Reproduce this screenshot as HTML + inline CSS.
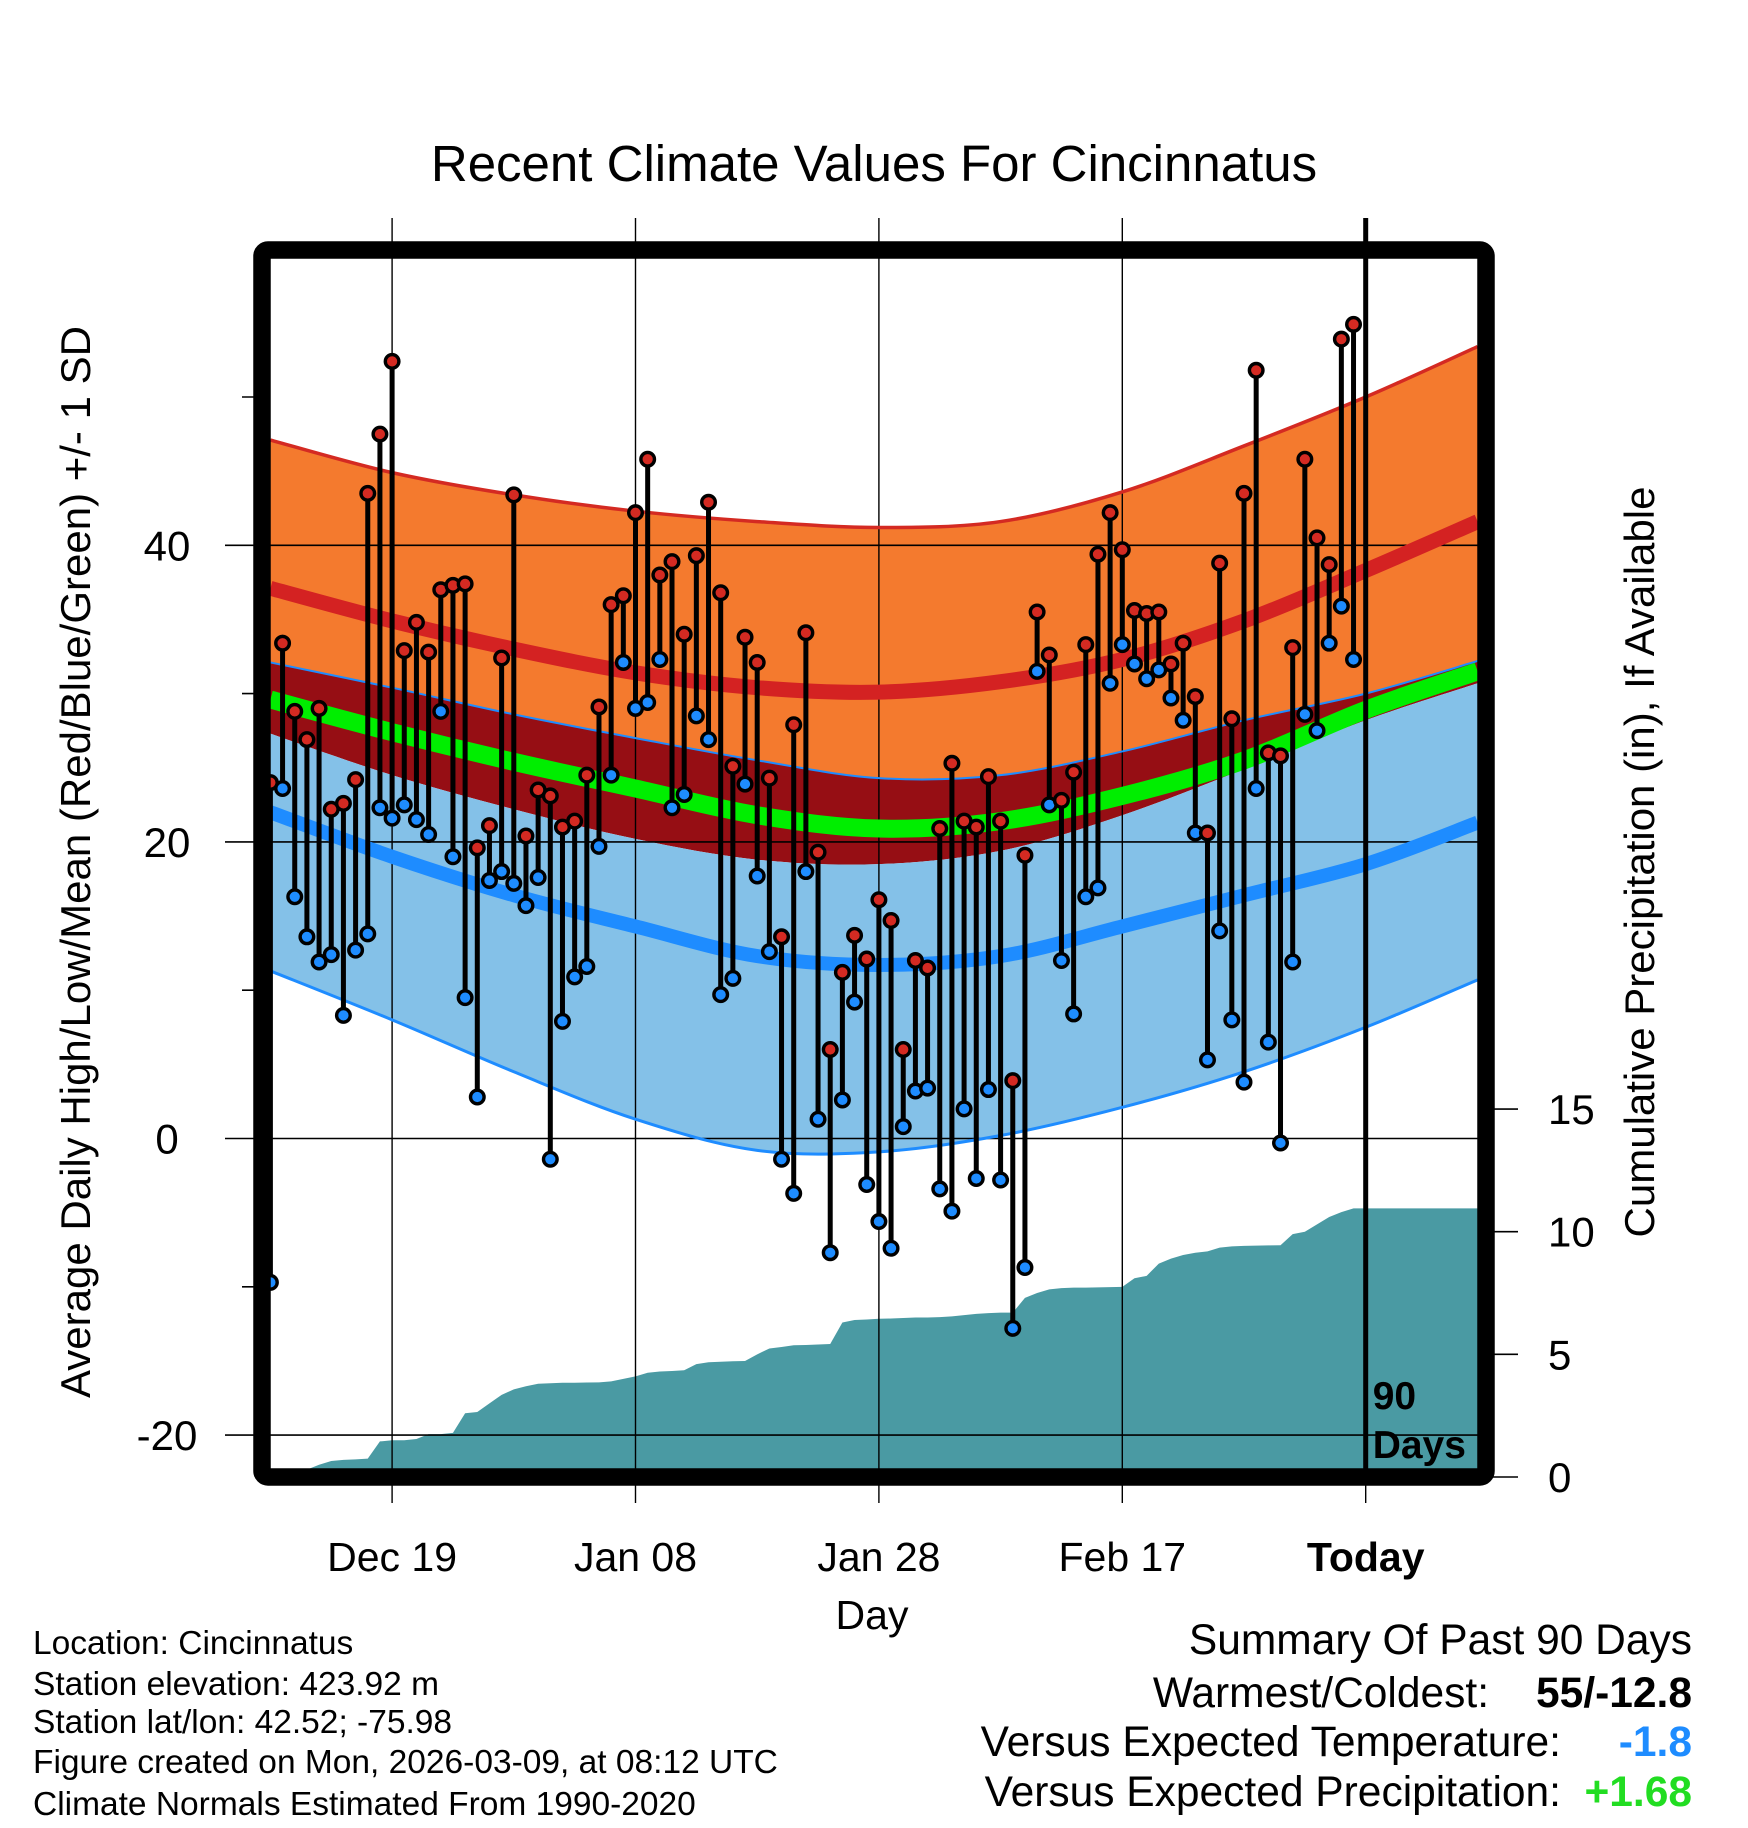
<!DOCTYPE html>
<html><head><meta charset="utf-8">
<style>
html,body{margin:0;padding:0;background:#fff;}
svg{display:block;font-family:"Liberation Sans",Arial,sans-serif;}
</style></head>
<body>
<svg id="chart" width="1748" height="1828" viewBox="0 0 1748 1828" xmlns="http://www.w3.org/2000/svg">
<rect width="1748" height="1828" fill="#fff"/>
<text x="874" y="181" font-size="51" text-anchor="middle">Recent Climate Values For Cincinnatus</text>
<g id="bands"></g>
<g id="precip"></g>
<g id="grid"></g>
<g id="lines"></g>
<g id="marks"></g>
<g id="axes"></g>
<text x="79" y="862" font-size="42" text-anchor="middle" dominant-baseline="middle" transform="rotate(-90 79 862)">Average Daily High/Low/Mean (Red/Blue/Green) +/- 1 SD</text>
<text x="1643" y="862" font-size="42" text-anchor="middle" dominant-baseline="middle" transform="rotate(-90 1643 862)">Cumulative Precipitation (in), If Available</text>
<text x="872" y="1629" font-size="41" text-anchor="middle">Day</text>
<g font-size="33.5">
<text x="33" y="1654">Location: Cincinnatus</text>
<text x="33" y="1695">Station elevation: 423.92 m</text>
<text x="33" y="1733">Station lat/lon: 42.52; -75.98</text>
<text x="33" y="1773">Figure created on Mon, 2026-03-09, at 08:12 UTC</text>
<text x="33" y="1815">Climate Normals Estimated From 1990-2020</text>
</g>
<g font-size="42.5" text-anchor="end">
<text x="1692" y="1654">Summary Of Past 90 Days</text>
<text x="1489" y="1707">Warmest/Coldest:</text>
<text x="1692" y="1707" font-weight="bold">55/-12.8</text>
<text x="1561" y="1756">Versus Expected Temperature:</text>
<text x="1692" y="1756" font-weight="bold" fill="#1e8cff">-1.8</text>
<text x="1561" y="1806">Versus Expected Precipitation:</text>
<text x="1692" y="1806" font-weight="bold" fill="#22dd22">+1.68</text>
</g>
</svg>
<script>
// ---- data ----
const normalDays = [0,10,20,30,40,50,60,70,80,90,99.2];
const highPlusSD = [47.1,44.9,43.4,42.3,41.6,41.2,41.6,43.6,46.7,50.0,53.4];
const highMean   = [37.1,34.9,33.0,31.4,30.4,30.1,30.8,32.3,34.9,38.3,41.6];
const highMinusSD= [32.1,30.4,28.6,27.0,25.5,24.3,24.5,26.1,28.2,30.0,32.2];
const meanTemp   = [29.6,27.4,25.4,23.6,21.8,20.9,21.4,23.1,25.5,28.9,31.5];
const lowPlusSD  = [27.3,24.5,22.2,20.2,18.8,18.5,19.4,21.8,24.9,28.2,30.7];
const lowMean    = [22.0,19.0,16.4,14.3,12.3,11.7,12.3,14.3,16.4,18.5,21.3];
const lowMinusSD = [11.3,8.0,4.5,1.3,-0.8,-0.9,0.2,2.1,4.5,7.5,10.7];
const dailyHigh = [24,33.4,28.8,26.9,29,22.2,22.6,24.2,43.5,47.5,52.4,32.9,34.8,32.8,37,37.3,37.4,19.6,21.1,32.4,
 43.4,20.4,23.5,23.1,21,21.4,24.5,29.1,36,36.6,42.2,45.8,38,38.9,34,39.3,42.9,36.8,25.1,33.8,
 32.1,24.3,13.6,27.9,34.1,19.3,6,11.2,13.7,12.1,16.1,14.7,6,12,11.5,20.9,25.3,21.4,21,24.4,
 21.4,3.9,19.1,35.5,32.6,22.8,24.7,33.3,39.4,42.2,39.7,35.6,35.4,35.5,32,33.4,29.8,20.6,38.8,28.3,
 43.5,51.8,26,25.8,33.1,45.8,40.5,38.7,53.9,54.9];
const dailyLow = [-9.7,23.6,16.3,13.6,11.9,12.4,8.3,12.7,13.8,22.3,21.6,22.5,21.5,20.5,28.8,19,9.5,2.8,17.4,18,
 17.2,15.7,17.6,-1.4,7.9,10.9,11.6,19.7,24.5,32.1,29,29.4,32.3,22.3,23.2,28.5,26.9,9.7,10.8,23.9,
 17.7,12.6,-1.4,-3.7,18,1.3,-7.7,2.6,9.2,-3.1,-5.6,-7.4,0.8,3.2,3.4,-3.4,-4.9,2,-2.7,3.3,
 -2.8,-12.8,-8.7,31.5,22.5,12,8.4,16.3,16.9,30.7,33.3,32,31,31.6,29.7,28.2,20.6,5.3,14,8,
 3.8,23.6,6.5,-0.3,11.9,28.6,27.5,33.4,35.9,32.3];
const cumPrecip = [0,0,0.1,0.3,0.5,0.65,0.7,0.72,0.75,1.45,1.5,1.5,1.55,1.75,1.75,1.8,2.6,2.65,3.0,3.35,
 3.57,3.7,3.8,3.82,3.84,3.84,3.85,3.86,3.9,4.0,4.1,4.25,4.3,4.32,4.35,4.6,4.68,4.7,4.72,4.73,
 5.0,5.24,5.3,5.37,5.38,5.4,5.42,6.3,6.4,6.42,6.45,6.46,6.48,6.5,6.5,6.52,6.55,6.6,6.65,6.68,
 6.7,6.7,7.3,7.5,7.65,7.7,7.72,7.72,7.73,7.74,7.75,8.1,8.2,8.7,8.9,9.05,9.14,9.2,9.35,9.4,
 9.42,9.43,9.44,9.45,9.9,10.0,10.3,10.6,10.8,10.95];
const tempTicks = [-20,0,20,40];
const minorTempTicks = [-10,10,30,50];
const precipTicks = [0,5,10,15];
const dateTickDays = [10,30,50,70,90];
const dateTickLabels = ["Dec 19","Jan 08","Jan 28","Feb 17","Today"];

// ---- axes ----
const L=262,R=1486,T=250,B=1477;
const X0=270.4, DX=12.17;
function xs(d){return X0+d*DX;}
function ys(t){return 1138.5-t*14.83;}
function yp(p){return 1477-p*24.53;}
const NS="http://www.w3.org/2000/svg";
function mk(tag,attrs,parent){const e=document.createElementNS(NS,tag);for(const k in attrs)e.setAttribute(k,attrs[k]);parent.appendChild(e);return e;}
function pts(arr){return normalDays.map((d,i)=>[xs(d),ys(arr[i])]);}
function curve(p){ // catmull-rom
  let s=`M${p[0][0]},${p[0][1]}`;
  for(let i=0;i<p.length-1;i++){
    const p0=p[Math.max(0,i-1)],p1=p[i],p2=p[i+1],p3=p[Math.min(p.length-1,i+2)];
    const c1=[p1[0]+(p2[0]-p0[0])/6,p1[1]+(p2[1]-p0[1])/6];
    const c2=[p2[0]-(p3[0]-p1[0])/6,p2[1]-(p3[1]-p1[1])/6];
    s+=` C${c1[0]},${c1[1]} ${c2[0]},${c2[1]} ${p2[0]},${p2[1]}`;
  }
  return s;
}
function band(top,bot){
  const a=pts(top), b=pts(bot).reverse();
  return curve(a)+" L"+b[0][0]+","+b[0][1]+curve(b).replace(/^M[^C]*/," ")+" Z";
}
const bands=document.getElementById('bands');
let e;
e=mk('path',{d:band(highPlusSD,highMinusSD),fill:'#f47a2e'},bands);


e=mk('path',{d:band(highMinusSD,lowPlusSD),fill:'#960e14'},bands);


e=mk('path',{d:band(lowPlusSD,lowMinusSD),fill:'#84c1e8'},bands);



// precip
const pg=document.getElementById('precip');
let pd=`M${xs(0)},${yp(0)}`;
cumPrecip.forEach((v,i)=>{pd+=` L${xs(i)},${yp(v)}`;});
pd+=` L${xs(99.2)},${yp(cumPrecip[cumPrecip.length-1])} L${xs(99.2)},${yp(0)} Z`;
e=mk('path',{d:pd,fill:'#4a9aa3'},pg);



// grid
const gg=document.getElementById('grid');
tempTicks.forEach(t=>{
  e=mk('line',{x1:225,x2:R,y1:ys(t),y2:ys(t),stroke:'#000','stroke-width':1.6},gg);
  
  
  e=mk('text',{x:167,y:ys(t)+15,'font-size':42,'text-anchor':'middle'},gg);
  e.textContent=String(t);
  
  
});
minorTempTicks.forEach(t=>{
  e=mk('line',{x1:242,x2:L,y1:ys(t),y2:ys(t),stroke:'#000','stroke-width':1.6},gg);
  
  
});
dateTickDays.forEach((d,i)=>{
  e=mk('line',{x1:xs(d),x2:xs(d),y1:218,y2:1503,stroke:'#000','stroke-width':1.4},gg);
  
  
  e=mk('text',{x:xs(d),y:1571,'font-size':41,'text-anchor':'middle','font-weight':i===4?'bold':'normal'},gg);
  e.textContent=dateTickLabels[i];
  
  
});
precipTicks.forEach(p=>{
  e=mk('line',{x1:R,x2:1518,y1:yp(p),y2:yp(p),stroke:'#000','stroke-width':1.6},gg);
  
  
  e=mk('text',{x:1548,y:yp(p)+15,'font-size':42},gg);
  e.textContent=String(p);
  
  
});

// normal lines
const lg=document.getElementById('lines');
e=mk('path',{d:curve(pts(highPlusSD)),fill:'none',stroke:'#d42a22','stroke-width':3.5},lg);


e=mk('path',{d:curve(pts(highMinusSD)),fill:'none',stroke:'#1e8cff','stroke-width':2},lg);


e=mk('path',{d:curve(pts(lowMinusSD)),fill:'none',stroke:'#1e8cff','stroke-width':3},lg);


e=mk('path',{d:curve(pts(meanTemp)),fill:'none',stroke:'#00ee00','stroke-width':18},lg);


e=mk('path',{d:curve(pts(highMean)),fill:'none',stroke:'#d42222','stroke-width':15},lg);


e=mk('path',{d:curve(pts(lowMean)),fill:'none',stroke:'#1e8cff','stroke-width':14},lg);



// marks
const mg=document.getElementById('marks');
dailyHigh.forEach((h,i)=>{
  const l=dailyLow[i], x=xs(i);
  e=mk('line',{x1:x,x2:x,y1:ys(h),y2:ys(l),stroke:'#000','stroke-width':5},mg);
  
  
});
dailyHigh.forEach((h,i)=>{
  const l=dailyLow[i], x=xs(i);
  e=mk('circle',{cx:x,cy:ys(l),r:6.8,fill:'#1e8cff',stroke:'#000','stroke-width':3.4},mg);
  
  
  e=mk('circle',{cx:x,cy:ys(h),r:6.8,fill:'#d42a22',stroke:'#000','stroke-width':3.4},mg);
  
  
});

// today line, frame
const ag=document.getElementById('axes');
e=mk('line',{x1:xs(90),x2:xs(90),y1:218,y2:B,stroke:'#000','stroke-width':5},ag);


e=mk('text',{x:xs(90)+7,y:1409,'font-size':39,'font-weight':'bold'},ag);
e.textContent='90';


e=mk('text',{x:xs(90)+7,y:1458,'font-size':39,'font-weight':'bold'},ag);
e.textContent='Days';


e=mk('rect',{x:L,y:T,width:R-L,height:B-T,fill:'none',stroke:'#000','stroke-width':17.5,rx:6},ag);


</script>
</body></html>
